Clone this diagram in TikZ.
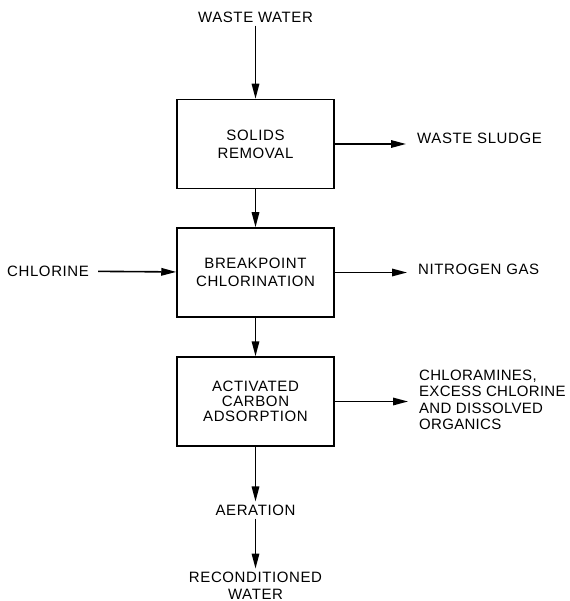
\documentclass[tikz,border=0pt]{standalone}
\usepackage{fontspec}
\setmainfont{Liberation Sans}[LetterSpace=4]
\usetikzlibrary{arrows.meta}
\begin{document}
\begin{tikzpicture}[x=1pt,y=-1pt,
    flow/.style={line width=1.6pt,-{Triangle[length=15pt,width=7.5pt]}},
    unit/.style={draw,line width=1.5pt,minimum width=157pt,minimum height=89pt,
      align=center,font=\fontsize{15}{18}\selectfont},
    stream/.style={align=center,font=\fontsize{15}{17}\selectfont,inner sep=3pt},
    product/.style={stream,anchor=west,align=left,inner xsep=11pt}]
  \useasboundingbox (0,0) rectangle (569,601);
  % treatment units
  \node[unit] (sr) at (255.5,144) {SOLIDS\\REMOVAL};
  \node[unit] (bc) at (255.5,272.5) {BREAKPOINT\\CHLORINATION};
  \node[unit] (ac) at (255.5,401.5) {ACTIVATED\\[-3pt]CARBON\\[-3pt]ADSORPTION};
  % inputs
  \node[stream] (ww) at (255.5,17) {WASTE WATER};
  \node[stream,anchor=west] (cl) at (4,271) {CHLORINE};
  % removed streams
  \node[product] (ws) at (406,138) {WASTE SLUDGE};
  \node[product] (ng) at (407,269) {NITROGEN GAS};
  \node[product,font=\fontsize{15}{16.5}\selectfont\addfontfeature{LetterSpace=2}] (cm) at (408,400)
    {CHLORAMINES,\\EXCESS CHLORINE\\AND DISSOLVED\\ORGANICS};
  % outlet
  \node[stream] (ae) at (255.5,510) {AERATION};
  \node[stream] (rw) at (255.5,585.5) {RECONDITIONED\\WATER};
  % connectors
  \draw[flow] (ww) -- (sr);
  \draw[flow] (sr) -- (bc);
  \draw[flow] (bc) -- (ac);
  \draw[flow] (ac) -- (ae);
  \draw[flow] (ae) -- (rw);
  \draw[flow,shorten <=6pt] (cl) -- (bc);
  \draw[flow] (sr.east) -- (sr.east -| ws.west);
  \draw[flow] (bc.east) -- (bc.east -| ng.west);
  \draw[flow] (ac.east) -- (ac.east -| cm.west);
\end{tikzpicture}
\end{document}
